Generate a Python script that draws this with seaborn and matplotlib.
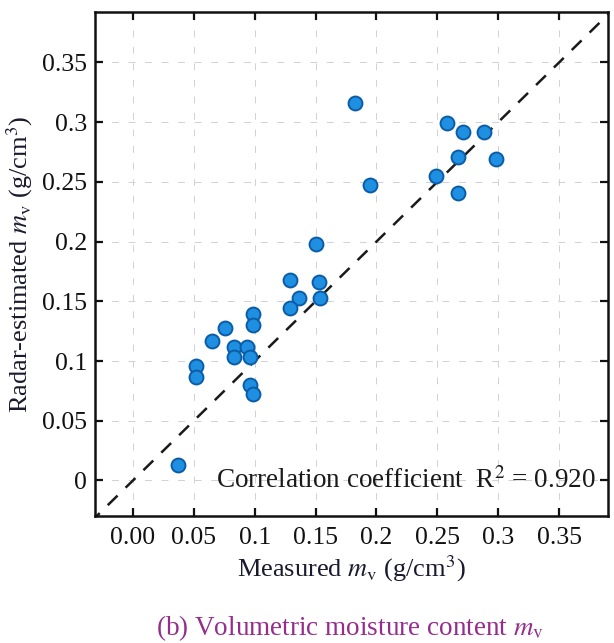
import matplotlib
matplotlib.use("Agg")
import matplotlib.pyplot as plt
import seaborn as sns
import pandas as pd

# Measured vs radar-estimated volumetric moisture content (g/cm^3)
measured = [0.182, 0.195, 0.258, 0.271, 0.288, 0.267, 0.298, 0.249, 0.267,
            0.150, 0.129, 0.153, 0.136, 0.154, 0.129,
            0.099, 0.099, 0.076, 0.065, 0.083, 0.094, 0.083, 0.096,
            0.052, 0.052, 0.096, 0.099, 0.037]
estimated = [0.316, 0.247, 0.299, 0.292, 0.292, 0.271, 0.269, 0.255, 0.241,
             0.198, 0.168, 0.166, 0.153, 0.153, 0.144,
             0.139, 0.130, 0.128, 0.117, 0.112, 0.112, 0.103, 0.103,
             0.096, 0.087, 0.080, 0.072, 0.013]
r_squared = 0.920

x_ticks = [0.00, 0.05, 0.10, 0.15, 0.20, 0.25, 0.30, 0.35]
x_tick_labels = ["0.00", "0.05", "0.1", "0.15", "0.2", "0.25", "0.3", "0.35"]
y_ticks = [0.00, 0.05, 0.10, 0.15, 0.20, 0.25, 0.30, 0.35]
y_tick_labels = ["0", "0.05", "0.1", "0.15", "0.2", "0.25", "0.3", "0.35"]

df = pd.DataFrame({"measured": measured, "estimated": estimated})

sns.set_theme(style="ticks")
plt.rcParams["font.family"] = ["Liberation Serif", "DejaVu Serif"]
plt.rcParams["mathtext.fontset"] = "stix"

fig = plt.figure(figsize=(6.14, 6.43), dpi=100)
ax = fig.add_axes([0.155, 0.197, 0.835, 0.784])

xlim = (-0.031, 0.390)
ylim = (-0.030, 0.392)

# faint dashed grid
for t in x_ticks:
    ax.axvline(t, color="#d0d0d8", lw=0.7, ls=(0, (7, 10)), zorder=0)
for t in y_ticks:
    ax.axhline(t, color="#d0d0d8", lw=0.7, ls=(0, (7, 10)), zorder=0)

# 1:1 reference line
ax.plot([-0.05, 0.42], [-0.05, 0.42], color="#1a1a1a", lw=1.8,
        ls=(0, (5.5, 4.5)), zorder=1)

sns.scatterplot(data=df, x="measured", y="estimated", ax=ax, s=100,
                color="#1E8FE1", edgecolor="#0B5CA6", linewidth=1.4,
                zorder=3, legend=False)

ax.set_xlim(*xlim)
ax.set_ylim(*ylim)
ax.set_xticks(x_ticks)
ax.set_xticklabels(x_tick_labels)
ax.set_yticks(y_ticks)
ax.set_yticklabels(y_tick_labels)
ax.tick_params(direction="in", length=6, width=1.6, labelsize=18.5,
               top=True, right=True, colors="#111111", pad=8)
ax.tick_params(axis="y", pad=6)
for sp in ax.spines.values():
    sp.set_linewidth(1.8)
    sp.set_color("#111111")

ax.set_xlabel(r"Measured $m_{\mathrm{v}}$ (g/cm$^3$)", fontsize=19,
              color="#1a1a2e", labelpad=3)
ax.set_ylabel(r"Radar-estimated $m_{\mathrm{v}}$ (g/cm$^3$)", fontsize=19,
              color="#1a1a2e", labelpad=5)

ax.text(0.380, 0.0, rf"Correlation coefficient  R$^2$ = {r_squared:.3f}",
        fontsize=19.5, ha="right", va="center", color="#1a1a1a", zorder=4)

fig.text(0.57, 0.023, r"(b) Volumetric moisture content $m_{\mathrm{v}}$",
         fontsize=19.5, ha="center", va="center", color="#952D8C")

fig.savefig("out.png", dpi=100, facecolor="white")
